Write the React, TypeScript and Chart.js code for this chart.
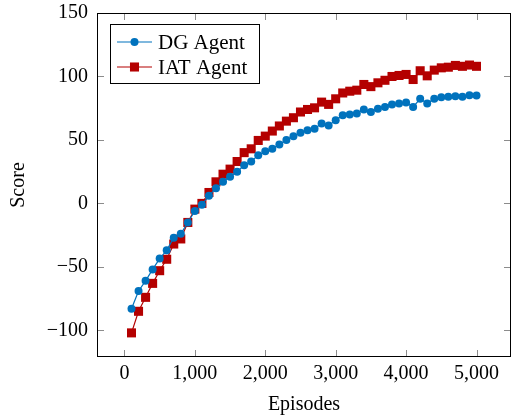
import { useEffect, useRef } from "react";
import { Chart, registerables } from "chart.js";

Chart.register(...registerables);

const episodes = [
  100, 200, 300, 400, 500, 600, 700, 800, 900, 1000,
  1100, 1200, 1300, 1400, 1500, 1600, 1700, 1800, 1900, 2000,
  2100, 2200, 2300, 2400, 2500, 2600, 2700, 2800, 2900, 3000,
  3100, 3200, 3300, 3400, 3500, 3600, 3700, 3800, 3900, 4000,
  4100, 4200, 4300, 4400, 4500, 4600, 4700, 4800, 4900, 5000,
];

const dgAgent = [
  -83, -69, -61, -52, -43.5, -37, -27, -24, -15, -6,
  -1, 6, 12, 17, 21, 25, 30, 33, 38, 41,
  43, 46.5, 50, 53, 55.6, 57.7, 58.8, 63, 61.4, 65.6,
  69.5, 70, 70.9, 74, 72, 74.5, 76, 78, 78.7, 79.5,
  76, 82.4, 78.7, 82.4, 83.7, 84, 84.5, 84, 85.3, 85,
];

const iatAgent = [
  -102, -85, -74, -63, -53, -44, -32, -28, -15, -4.5,
  0, 8.6, 17, 23, 27, 33, 40, 43, 49.6, 53,
  57, 61, 64.8, 67.5, 72, 74, 75.3, 79.8, 78, 82.4,
  87, 88.4, 89.2, 93.7, 92, 95, 97, 100, 100.8, 101.6,
  97.6, 104.5, 100.5, 105, 106.8, 107.3, 108.7, 108, 109, 108,
];

const xTicks = [0, 1000, 2000, 3000, 4000, 5000];
const yTicks = [-100, -50, 0, 50, 100, 150];

const FONT = "'Liberation Serif', 'Times New Roman', serif";
const BLUE = "#0072bd";
const RED = "#b40000";

const framePlugin = {
  id: "pgfFrame",
  afterDraw(chart: any) {
    const { ctx, chartArea: a, scales } = chart;
    const xs = scales.x;
    const ys = scales.y;
    ctx.save();
    const line = (x1: number, y1: number, x2: number, y2: number) => {
      ctx.beginPath();
      ctx.moveTo(x1, y1);
      ctx.lineTo(x2, y2);
      ctx.stroke();
    };
    ctx.strokeStyle = "#8c8c8c";
    ctx.lineWidth = 1;
    const tl = 7;
    for (const v of xTicks) {
      const px = Math.round(xs.getPixelForValue(v)) + 0.5;
      line(px, a.bottom, px, a.bottom - tl);
      line(px, a.top, px, a.top + tl);
    }
    for (const v of yTicks) {
      const py = Math.round(ys.getPixelForValue(v)) + 0.5;
      line(a.left, py, a.left + tl, py);
      line(a.right, py, a.right - tl, py);
    }
    ctx.strokeStyle = "#000";
    ctx.lineWidth = 1;
    ctx.strokeRect(a.left + 0.5, a.top + 0.5, a.right - a.left - 1, a.bottom - a.top - 1);

    // legend
    const lx = a.left + 13;
    const ly = a.top + 11;
    const lw = 150;
    const lh = 60;
    ctx.fillStyle = "#fff";
    ctx.fillRect(lx, ly, lw, lh);
    ctx.strokeStyle = "#000";
    ctx.strokeRect(lx + 0.5, ly + 0.5, lw - 1, lh - 1);
    ctx.font = `21px ${FONT}`;
    ctx.textBaseline = "middle";
    ctx.textAlign = "left";
    chart.data.datasets.forEach((ds: any, i: number) => {
      const ry = ly + 18 + i * 25;
      ctx.strokeStyle = ds.borderColor;
      ctx.lineWidth = ds.borderWidth;
      line(lx + 7, ry, lx + 42, ry);
      ctx.fillStyle = ds.pointBackgroundColor;
      const cx = lx + 24.5;
      if (ds.pointStyle === "rect") {
        const s = ds.pointRadius * Math.SQRT1_2;
        ctx.fillRect(cx - s, ry - s, 2 * s, 2 * s);
      } else {
        ctx.beginPath();
        ctx.arc(cx, ry, ds.pointRadius, 0, Math.PI * 2);
        ctx.fill();
      }
      ctx.fillStyle = "#000";
      ctx.fillText(ds.label, lx + 48, ry + 1);
    });
    ctx.restore();
  },
};

export default function App() {
  const ref = useRef<HTMLCanvasElement | null>(null);
  useEffect(() => {
    if (!ref.current) return;
    const chart = new Chart(ref.current, {
      type: "line",
      data: {
        datasets: [
          {
            label: "DG Agent",
            data: episodes.map((e, i) => ({ x: e, y: dgAgent[i] })),
            borderColor: BLUE,
            backgroundColor: BLUE,
            pointBackgroundColor: BLUE,
            pointBorderColor: BLUE,
            pointStyle: "circle",
            pointRadius: 4,
            pointBorderWidth: 0,
            borderWidth: 1.2,
            tension: 0,
          },
          {
            label: "IAT Agent",
            data: episodes.map((e, i) => ({ x: e, y: iatAgent[i] })),
            borderColor: RED,
            backgroundColor: RED,
            pointBackgroundColor: RED,
            pointBorderColor: RED,
            pointStyle: "rect",
            pointRadius: 6.4,
            pointBorderWidth: 0,
            borderWidth: 1.2,
            tension: 0,
          },
        ] as any,
      },
      options: {
        animation: false,
        responsive: false,
        maintainAspectRatio: false,
        layout: { autoPadding: false, padding: { left: 0, right: 0, top: 13, bottom: 0 } },
        plugins: {
          legend: { display: false },
          tooltip: { enabled: false },
        },
        scales: {
          x: {
            type: "linear",
            min: -390,
            max: 5490,
            afterBuildTicks: (s: any) => {
              s.ticks = xTicks.map((v) => ({ value: v }));
            },
            afterFit: (s: any) => {
              s.height = 58;
              s.paddingLeft = 0;
              s.paddingRight = 0;
            },
            grid: { display: false, drawTicks: false },
            border: { display: false },
            ticks: {
              padding: 5,
              color: "#000",
              font: { family: FONT, size: 20 },
              maxRotation: 0,
              callback: (v: any) => Number(v).toLocaleString("en-US"),
            },
            title: {
              display: true,
              text: "Episodes",
              color: "#000",
              font: { family: FONT, size: 20, lineHeight: 1 },
              padding: { top: 0, bottom: 0 },
            },
          },
          y: {
            type: "linear",
            min: -121,
            max: 150,
            afterBuildTicks: (s: any) => {
              s.ticks = yTicks.map((v) => ({ value: v }));
            },
            afterFit: (s: any) => {
              s.width = 97;
              s.paddingTop = 0;
              s.paddingBottom = 0;
            },
            grid: { display: false, drawTicks: false },
            border: { display: false },
            ticks: {
              padding: 9,
              color: "#000",
              font: { family: FONT, size: 20 },
              callback: (v: any) => (Number(v) < 0 ? "\u2212" + Math.abs(Number(v)) : String(v)),
            },
            title: {
              display: true,
              text: "Score",
              color: "#000",
              font: { family: FONT, size: 20 },
              padding: { top: 7, bottom: 0 },
            },
          },
        },
      },
      plugins: [framePlugin],
    });
    return () => chart.destroy();
  }, []);
  return (
    <div style={{ position: "fixed", left: 0, top: 0, width: 511, height: 415 }}>
      <canvas ref={ref} width={511} height={415} />
    </div>
  );
}
